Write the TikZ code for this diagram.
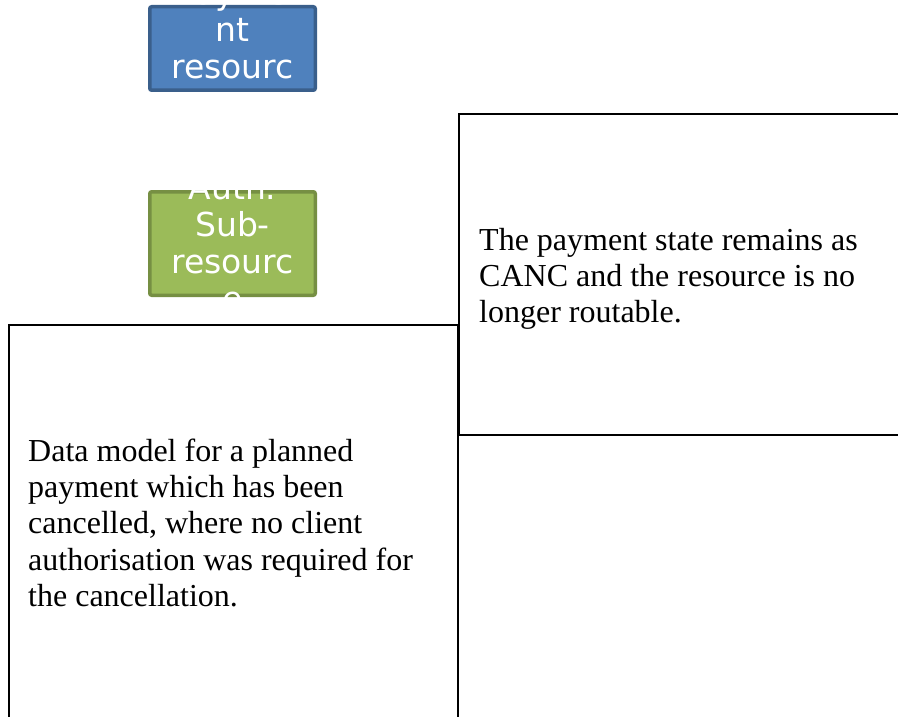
\documentclass[tikz,border=0pt]{standalone}
\usepackage{fontspec}
\setmainfont{Liberation Serif}
\newfontfamily\boxfont{DejaVu Sans}
\definecolor{bluefill}{HTML}{4F81BD}
\definecolor{blueedge}{HTML}{3A5F8B}
\definecolor{greenfill}{HTML}{9BBB59}
\definecolor{greenedge}{HTML}{768F43}
\begin{document}
\begin{tikzpicture}[x=1pt,y=-1pt,
  resbox/.style={line width=3.5pt,rounded corners=2pt},
  restext/.style={inner sep=0pt,text=white,align=center,text width=220pt,
    font=\boxfont\fontsize{33}{37}\selectfont,anchor=base},
  notebox/.style={draw=black,line width=2pt},
  notetext/.style={inner sep=0pt,align=flush left,text width=420pt,anchor=base west,
    font=\fontsize{32}{36.2}\selectfont}]
\useasboundingbox (0,0) rectangle (898,717);
% payment resource
\draw[resbox,fill=bluefill,draw=blueedge] (149.75,6.75) rectangle (315.25,90.25);
\node[restext] (paytext) at (232.5,5) {Payme\\nt\\resourc\\e};
% auth sub-resource
\draw[resbox,fill=greenfill,draw=greenedge] (149.75,191.75) rectangle (315.25,295.25);
\node[restext] (authtext) at (232.5,199.5) {Auth.\\Sub-\\resourc\\e};
% notes
\draw[notebox] (459,114) rectangle (905,435);
\node[notetext] (rightnote) at (479,250) {The payment state remains as\\CANC and the resource is no\\longer routable.};
\draw[notebox] (9,325) rectangle (458,725);
\node[notetext] (leftnote) at (28,461.5) {Data model for a planned\\payment which has been\\cancelled, where no client\\authorisation was required for\\the cancellation.};
\end{tikzpicture}
\end{document}
